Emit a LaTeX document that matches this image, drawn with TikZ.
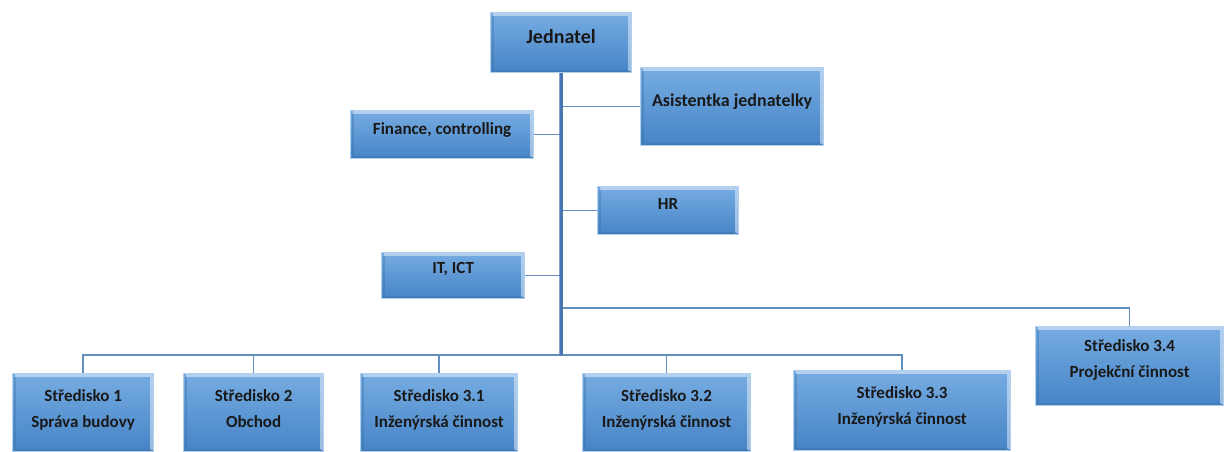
\documentclass[tikz,border=0pt]{standalone}
\usepackage{fontspec}
\setmainfont{Carlito}
\definecolor{boxtop}{RGB}{118,172,226}
\definecolor{boxbot}{RGB}{70,132,198}
\definecolor{boxrim}{RGB}{176,208,238}
\definecolor{wirec}{RGB}{98,142,192}
\definecolor{trunkc}{RGB}{72,118,176}
\newcommand{\twolines}[2]{\begin{tabular}[t]{@{}c@{}}#1\\#2\end{tabular}}

\begin{document}
\begin{tikzpicture}[x=1pt,y=-1pt,
    orgbox/.style={anchor=north west, inner sep=0pt, top color=boxtop,
        bottom color=boxbot, draw=boxrim, line width=1.2pt, text=black!90,
        font=\bfseries\fontsize{17}{26}\selectfont,
        path picture={
            \draw[white, opacity=.45, line width=2.5pt]
                ([xshift=2pt,yshift=-2pt]path picture bounding box.north west)
                -- ([xshift=-2pt,yshift=-2pt]path picture bounding box.north east)
                -- ([xshift=-2pt,yshift=2pt]path picture bounding box.south east);
            \draw[boxbot!80!black, opacity=.35, line width=2pt]
                ([xshift=2pt,yshift=-3pt]path picture bounding box.north west)
                -- ([xshift=2pt,yshift=1.5pt]path picture bounding box.south west)
                -- ([xshift=-3pt,yshift=1.5pt]path picture bounding box.south east);
        }},
    wire/.style={draw=wirec, line width=1.6pt},
    elbow/.style={to path={-| (\tikztotarget)}}]
    \useasboundingbox (0,0) rectangle (1224,451);

    \begin{scope}[every node/.style={orgbox}]
        \node[minimum width=141, minimum height=60, text height=31, text depth=29,
            font=\bfseries\fontsize{20}{24}\selectfont] (jed) at (490,12) {Jednatel};
        \node[minimum width=183, minimum height=78, text height=39, text depth=39,
            font=\bfseries\fontsize{18}{22}\selectfont] (asist) at (640,67) {Asistentka jednatelky};
        \node[minimum width=183, minimum height=48, text height=24, text depth=24] (fin) at (350,110) {Finance, controlling};
        \node[minimum width=141, minimum height=48, text height=23, text depth=25] (hr) at (597,186) {HR};
        \node[minimum width=143, minimum height=46, text height=21, text depth=25] (it) at (381,252) {IT, ICT};
        \node[minimum width=188, minimum height=79, text height=25, text depth=54] (s34) at (1035,326) {\twolines{Středisko 3.4}{Projekční činnost}};
        \node[minimum width=141, minimum height=78, text height=28, text depth=50] (s1) at (12,373) {\twolines{Středisko 1}{Správa budovy}};
        \node[minimum width=140, minimum height=78, text height=28, text depth=50] (s2) at (183,373) {\twolines{Středisko 2}{Obchod}};
        \node[minimum width=157, minimum height=78, text height=28, text depth=50] (s31) at (360,373) {\twolines{Středisko 3.1}{Inženýrská činnost}};
        \node[minimum width=168, minimum height=78, text height=28, text depth=50] (s32) at (582,373) {\twolines{Středisko 3.2}{Inženýrská činnost}};
        \node[minimum width=217, minimum height=80, text height=28, text depth=52] (s33) at (793,370) {\twolines{Středisko 3.3}{Inženýrská činnost}};
    \end{scope}

    \coordinate (fork) at (561,308);
    \coordinate (bus) at (561,355);

    \begin{scope}
    \path [wire] (asist.west) edge (asist.west -| jed.south);
    \path [wire] (fin.east) edge (fin.east -| jed.south);
    \path [wire] (hr.west) edge (hr.west -| jed.south);
    \path [wire] (it.east) edge (it.east -| jed.south);
    \path [wire] (fork) edge[elbow] (s34.north);
    \path [wire] (bus) edge[elbow] (s1.north);
    \path [wire] (bus) edge[elbow] (s2.north);
    \path [wire] (bus) edge[elbow] (s31.north);
    \path [wire] (bus) edge[elbow] (s32.north);
    \path [wire] (bus) edge[elbow] (s33.north);
    \path [draw=trunkc, line width=3.5pt] (jed.south) edge (bus);
    \end{scope}

\end{tikzpicture}
\end{document}
